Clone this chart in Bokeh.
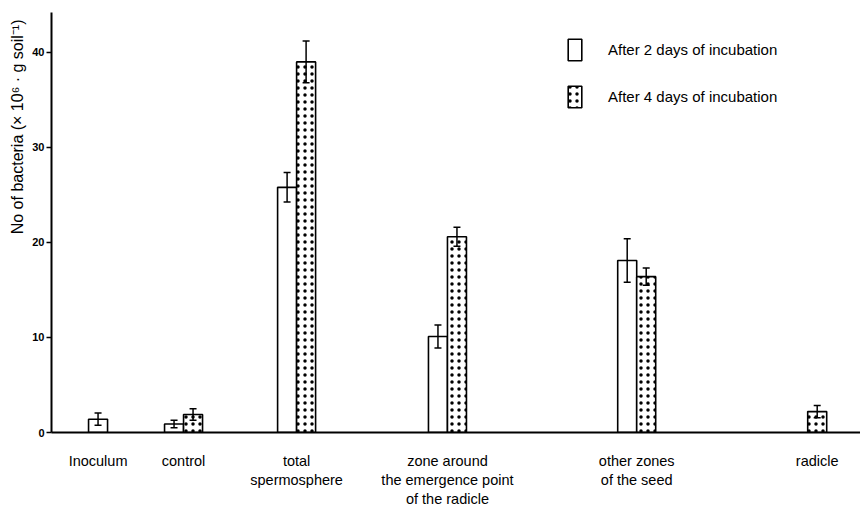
import numpy as np
from bokeh.plotting import figure
from bokeh.models import (ColumnDataSource, Whisker, TeeHead, FixedTicker,
                          Range1d, Legend, LegendItem)
from bokeh.embed import file_html
from bokeh.resources import INLINE

# ---------------- data ----------------
categories = ["Inoculum", "control", "total\nspermosphere",
              "zone around\nthe emergence point\nof the radicle",
              "other zones\nof the seed", "radicle"]
series_names = ["After 2 days of incubation", "After 4 days of incubation"]
day2_values = [1.4, 0.9, 25.8, 10.1, 18.1, np.nan]
day2_errors = [0.65, 0.4, 1.55, 1.2, 2.3, np.nan]
day4_values = [np.nan, 1.9, 39.0, 20.6, 16.4, 2.2]
day4_errors = [np.nan, 0.6, 2.2, 1.0, 0.9, 0.65]
y_ticks = [0, 10, 20, 30, 40]
y_title = "No of bacteria (× 10⁶ · g soil⁻¹)"

# ---------------- layout (not data) ----------------
group_x = [2.45, 6.95, 12.9, 20.84, 30.8, 40.3]   # group centres, in bar widths
bar_w = 1.0
FONT = "Liberation Sans"
TITLE_PAD = "\u00a0" * 43   # shifts the centred y title up, as in the reference

p = figure(width=860, height=509, output_backend="svg", toolbar_location=None,
           x_range=Range1d(0, 809 / 19.0), y_range=Range1d(0, 44.2),
           min_border_left=51, min_border_right=0, min_border_top=12,
           min_border_bottom=77)
p.outline_line_color = None
p.xgrid.visible = False
p.ygrid.visible = False
p.background_fill_color = "white"
p.border_fill_color = "white"

renderers = []
for si, (vals, errs) in enumerate([(day2_values, day2_errors),
                                   (day4_values, day4_errors)]):
    xs, tops, lo, hi = [], [], [], []
    for gi in range(len(categories)):
        v = vals[gi]
        if np.isnan(v):
            continue
        other = (day4_values if si == 0 else day2_values)[gi]
        off = 0.0 if np.isnan(other) else (-0.5 if si == 0 else 0.5) * bar_w
        xs.append(group_x[gi] + off)
        tops.append(v)
        lo.append(v - errs[gi])
        hi.append(v + errs[gi])
    src = ColumnDataSource(dict(x=xs, top=tops, lo=lo, hi=hi))
    if si == 0:
        r = p.vbar(x="x", top="top", width=bar_w, source=src,
                   fill_color="white", line_color="black", line_width=1.6)
    else:
        r = p.vbar(x="x", top="top", width=bar_w, source=src,
                   fill_color="white", line_color="black", line_width=1.6,
                   hatch_pattern="dot", hatch_color="black",
                   hatch_scale=7, hatch_weight=1.0)
    renderers.append(r)
    w = Whisker(base="x", lower="lo", upper="hi", source=src,
                line_color="black", line_width=1.5, level="overlay",
                upper_head=TeeHead(size=7, line_color="black", line_width=1.5),
                lower_head=TeeHead(size=7, line_color="black", line_width=1.5))
    p.add_layout(w)

# ---------------- axes ----------------
yax = p.yaxis[0]
yax.ticker = FixedTicker(ticks=y_ticks)
yax.minor_tick_line_color = None
yax.major_tick_in = 0
yax.major_tick_out = 5
yax.major_tick_line_width = 1.5
yax.axis_line_width = 2
yax.axis_line_color = "black"
yax.major_label_text_font = FONT
yax.major_label_text_font_style = "bold"
yax.major_label_text_font_size = "11px"
yax.major_label_text_color = "black"
yax.major_label_standoff = 2
yax.axis_label = TITLE_PAD + y_title
yax.axis_label_text_font = FONT
yax.axis_label_text_font_style = "normal"
yax.axis_label_text_font_size = "16px"
yax.axis_label_text_color = "black"
yax.axis_label_standoff = 3

xax = p.xaxis[0]
xax.ticker = FixedTicker(ticks=group_x)
xax.major_label_overrides = {gx: lab for gx, lab in zip(group_x, categories)}
xax.major_tick_line_color = None
xax.minor_tick_line_color = None
xax.axis_line_width = 2
xax.axis_line_color = "black"
xax.major_label_text_font = FONT
xax.major_label_text_font_size = "14.5px"
xax.major_label_text_color = "black"
xax.major_label_standoff = 14

# ---------------- legend ----------------
legend = Legend(items=[LegendItem(label=series_names[0], renderers=[renderers[0]]),
                       LegendItem(label=series_names[1], renderers=[renderers[1]])],
                location=(515, 322), padding=0, margin=0, spacing=20,
                label_standoff=25, glyph_width=17, glyph_height=27,
                border_line_alpha=0, background_fill_alpha=0,
                label_text_font=FONT, label_text_font_size="15px",
                label_text_color="black")
p.add_layout(legend)

open("out.html", "w").write(file_html(p, INLINE))
